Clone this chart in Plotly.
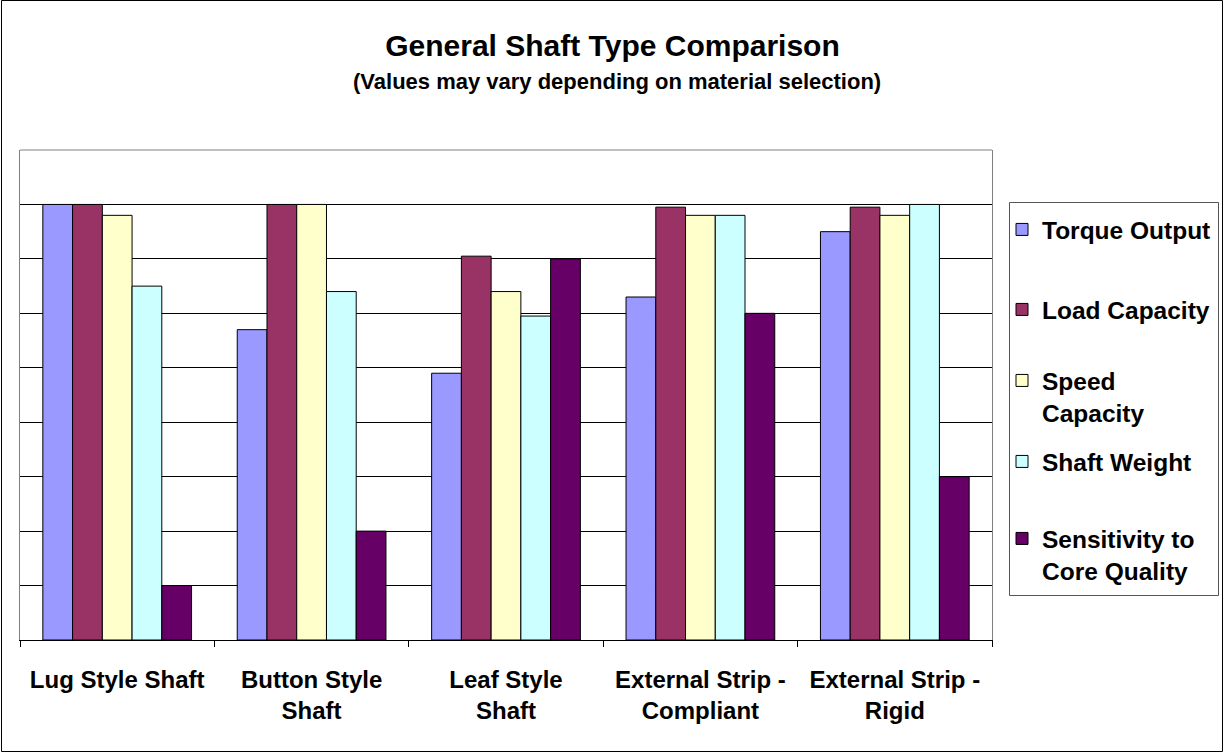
import plotly.graph_objects as go

categories = ["Lug Style Shaft", "Button Style<br>Shaft", "Leaf Style<br>Shaft",
              "External Strip -<br>Compliant", "External Strip -<br>Rigid"]
series_names = ["Torque Output", "Load Capacity", "Speed<br>Capacity",
                "Shaft Weight", "Sensitivity to<br>Core Quality"]
torque_output = [8.0, 5.7, 4.9, 6.3, 7.5]
load_capacity = [8.0, 8.0, 7.05, 7.95, 7.95]
speed_capacity = [7.8, 8.0, 6.4, 7.8, 7.8]
shaft_weight = [6.5, 6.4, 5.95, 7.8, 8.0]
sensitivity = [1.0, 2.0, 7.0, 6.0, 3.0]
series_values = [torque_output, load_capacity, speed_capacity, shaft_weight, sensitivity]
colors = ["#9999FF", "#993366", "#FFFFCC", "#CCFFFF", "#660066"]
y_ticks = [1, 2, 3, 4, 5, 6, 7, 8]

FONT = "Liberation Sans, Arial, sans-serif"

# plot-area pixel geometry
L, R, T, B = 20, 992, 150, 640
W, H = 1225, 754
pw, ph = R - L, B - T

def px(x):
    return (x - L) / pw

def py(y):
    return (B - y) / ph

# legend entry top positions (pixels) – one legend per entry
legend_tops = [207, 287, 358, 439, 516]
legend_ids = ["legend", "legend2", "legend3", "legend4", "legend5"]

fig = go.Figure()
for name, vals, col, lid in zip(series_names, series_values, colors, legend_ids):
    fig.add_trace(go.Bar(
        x=categories, y=vals, name=name,
        marker=dict(color=col, line=dict(color="black", width=1)),
        legend=lid,
    ))

legend_font = dict(size=24.5, family=FONT, weight="bold", color="black")
legend_layouts = {}
for lid, top in zip(legend_ids, legend_tops):
    legend_layouts[lid] = dict(x=px(1002), xanchor="left", y=py(top), yanchor="top",
                               borderwidth=0, bgcolor="rgba(0,0,0,0)",
                               font=legend_font, valign="top")

fig.update_layout(
    width=W, height=H,
    margin=dict(l=L, r=W - R, t=T, b=H - B, pad=0, autoexpand=False),
    paper_bgcolor="white", plot_bgcolor="white",
    barmode="group", bargap=0.235, bargroupgap=0,
    font=dict(family=FONT, color="black"),
    title=dict(text="General Shaft Type Comparison", x=0.5, xanchor="center",
               xref="container", yref="container", y=1 - 45 / H, yanchor="middle",
               font=dict(size=30, family=FONT, weight="bold", color="black")),
    showlegend=True,
    **legend_layouts,
)

fig.update_xaxes(showline=True, linecolor="black", linewidth=1, mirror=False,
                 ticks="outside", ticklen=6, tickcolor="black", tickson="boundaries",
                 tickfont=dict(size=24, family=FONT, weight="bold", color="black"),
                 ticklabelstandoff=18, showgrid=False, automargin=False)
fig.update_yaxes(range=[0, 9], tickvals=y_ticks, showticklabels=False,
                 showgrid=True, gridcolor="black", gridwidth=1,
                 showline=True, linecolor="#808080", linewidth=1, mirror=True,
                 ticks="", zeroline=False, automargin=False)

# top border of plot area, legend box and outer chart border
fig.add_shape(type="line", xref="paper", yref="paper", x0=0, x1=1, y0=1, y1=1,
              line=dict(color="#808080", width=1))
fig.add_shape(type="rect", xref="paper", yref="paper",
              x0=px(1009.5), x1=px(1218.5), y0=py(595.5), y1=py(202.5),
              line=dict(color="#555555", width=1), fillcolor="rgba(0,0,0,0)", layer="below")
fig.add_shape(type="rect", xref="paper", yref="paper",
              x0=px(1.5), x1=px(1222.5), y0=py(751.5), y1=py(0.5),
              line=dict(color="black", width=1), fillcolor="rgba(0,0,0,0)", layer="below")

fig.add_annotation(text="(Values may vary depending on material selection)",
                   xref="paper", yref="paper", x=px(617), y=py(81), showarrow=False,
                   xanchor="center", yanchor="middle",
                   font=dict(size=22, family=FONT, weight="bold", color="black"))

fig.write_html("out.html")
